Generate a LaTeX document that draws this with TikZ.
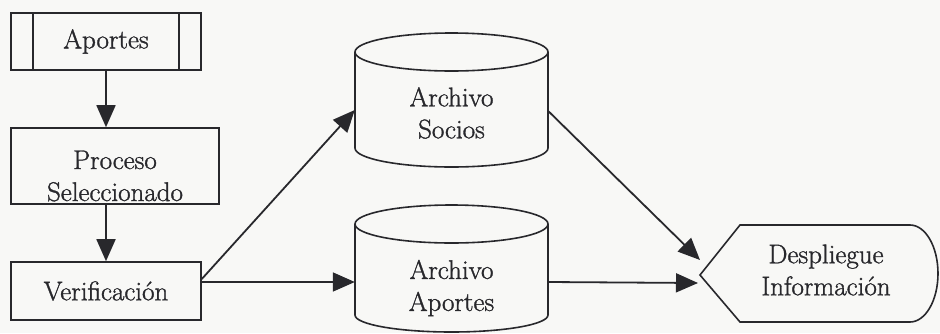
\documentclass[tikz,border=0pt]{standalone}
\usepackage{fontspec}
\newfontfamily\lmr{Latin Modern Roman}[FakeBold=1.2]
\usetikzlibrary{arrows.meta}
\definecolor{ink}{RGB}{40,40,44}
\definecolor{paper}{RGB}{248,248,246}
\begin{document}
\begin{tikzpicture}[x=1pt,y=-1pt,
  every node/.style={font=\lmr\fontsize{27}{32}\selectfont, text=ink, align=center, inner sep=0pt},
  box/.style={draw=ink, line width=1.6pt, rectangle},
  shapeline/.style={draw=ink, line width=1.6pt},
  arr/.style={draw=ink, line width=1.8pt, -{Triangle[length=22pt,width=19pt]}}]
\fill[paper] (0,0) rectangle (940,333);
\useasboundingbox (0,0) rectangle (940,333);

% left column
\node[box, minimum width=190pt, minimum height=57pt] (apb) at (106,41.5) {Aportes};
\draw[shapeline] ([xshift=23pt]apb.north west) -- ([xshift=23pt]apb.south west);
\draw[shapeline] ([xshift=-23pt]apb.north east) -- ([xshift=-23pt]apb.south east);

\node[box, minimum width=208pt, minimum height=76pt] (proc) at (115,166) {};
\node (proctxt) at (115,176) {Proceso\\Seleccionado};

\node[box, minimum width=190pt, minimum height=58pt] (ver) at (106,291) {Verificaci\'on};

% cylinders
\draw[shapeline] (355,52) -- (355,148) arc[start angle=180, end angle=360, x radius=96.5pt, y radius=19pt] -- (548,52);
\draw[shapeline] (451.5,52) ellipse [x radius=96.5pt, y radius=19pt];
\node[minimum width=193pt] (soc) at (451.5,113) {Archivo\\Socios};

\draw[shapeline] (355,224) -- (355,315) arc[start angle=180, end angle=360, x radius=96.5pt, y radius=17pt] -- (548,224);
\draw[shapeline] (451.5,224) ellipse [x radius=96.5pt, y radius=19pt];
\node[minimum width=193pt] (apc) at (451.5,288) {Archivo\\Aportes};

% display
\draw[shapeline] (700,275) -- (740,225) -- (910,225) arc[start angle=90, end angle=-90, x radius=28pt, y radius=48.5pt] -- (740,322) -- cycle;
\coordinate (despL) at (700,275);
\node (desp) at (826,270) {Despliegue\\Informaci\'on};

% connectors
\draw[arr] (apb.south) -- (apb.south |- proc.north);
\draw[arr] (ver.north |- proc.south) -- (ver.north);
\draw[arr] ([yshift=12pt]ver.east) -- ([yshift=3pt]soc.west);
\draw[arr] ([yshift=9pt]ver.east) -- ([yshift=6pt]apc.west);
\draw[arr] ([yshift=2pt]soc.east) -- ([yshift=15pt]despL);
\draw[arr] ([yshift=6pt]apc.east) -- ([xshift=-2pt,yshift=-8pt]despL);
\end{tikzpicture}
\end{document}
